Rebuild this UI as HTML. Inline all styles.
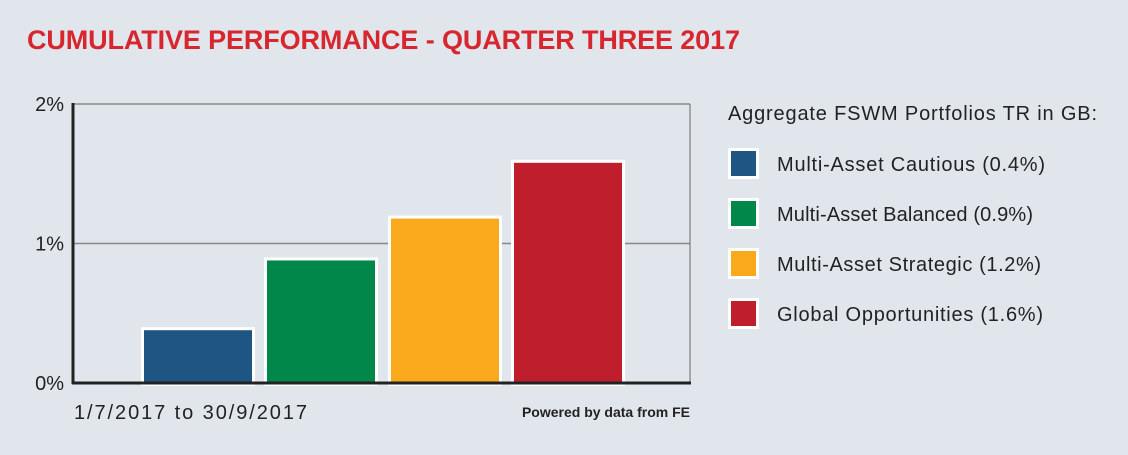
<!DOCTYPE html>
<html><head><meta charset="utf-8"><style>
body{margin:0;width:1128px;height:450px;background:#e1e6ed;font-family:"Liberation Sans",sans-serif;overflow:hidden}
</style></head><body>
<svg width="1128" height="450">
<text x="27" y="49" font-size="27" font-weight="bold" fill="#d7262e" textLength="713">CUMULATIVE PERFORMANCE - QUARTER THREE 2017</text>
<g id="plot"></g>
<text x="74" y="419" font-size="20" fill="#222" textLength="233">1/7/2017 to 30/9/2017</text>
<text x="690" y="417" font-size="14" font-weight="bold" fill="#222" text-anchor="end">Powered by data from FE</text>
<text x="728" y="120" font-size="20" fill="#222" textLength="369">Aggregate FSWM Portfolios TR in GB:</text>
<g id="legend"></g>
</svg>
<script>
const categories=["Multi-Asset Cautious","Multi-Asset Balanced","Multi-Asset Strategic","Global Opportunities"];
const values=[0.4,0.9,1.2,1.6];
const colors=["#1f5582","#02874a","#f9a91b","#bf1e2d"];
const ticks=[0,1,2];
const legendWidths=[268,256,264,266];
const NS="http://www.w3.org/2000/svg";
const x0=73,x1=690,yTop=104,yBot=383;
const y=v=>yBot-(v/2)*(yBot-yTop);
const plot=document.getElementById('plot');
function mk(tag,attrs,parent){const e=document.createElementNS(NS,tag);for(const k in attrs)e.setAttribute(k,attrs[k]);parent.appendChild(e);return e;}
ticks.forEach(t=>{
  if(t>0){const l=mk('line',{x1:x0,x2:x1,y1:y(t),y2:y(t),stroke:'#888','stroke-width':1.5},plot);
  
  }
  const tx=mk('text',{x:64,y:y(t)+7,'font-size':20,fill:'#222','text-anchor':'end'},plot);tx.textContent=t+'%';
  
  
});
const rb=mk('line',{x1:x1,x2:x1,y1:yTop,y2:yBot,stroke:'#666','stroke-width':1},plot);


const bw=114,starts=[141,264,388,511];
values.forEach((v,i)=>{
  const r=mk('rect',{x:starts[i]+1.5,y:y(v)+1.5,width:bw-3,height:yBot-y(v),fill:colors[i],stroke:'#fff','stroke-width':3},plot);
  
  
});
const ya=mk('line',{x1:x0,x2:x0,y1:yTop-1,y2:yBot+1,stroke:'#222','stroke-width':3},plot);


const xa=mk('line',{x1:x0-1,x2:x1+1,y1:yBot,y2:yBot,stroke:'#222','stroke-width':3},plot);


const lg=document.getElementById('legend');
categories.forEach((c,i)=>{
  const yy=148+i*50;
  const r=mk('rect',{x:729.5,y:yy+1.5,width:28,height:28,fill:colors[i],stroke:'#fff','stroke-width':3},lg);
  
  
  const t=mk('text',{x:777,y:yy+23,'font-size':20,fill:'#222',textLength:legendWidths[i]},lg);t.textContent=c+' ('+values[i]+'%)';
  
  
});
</script>
</body></html>
